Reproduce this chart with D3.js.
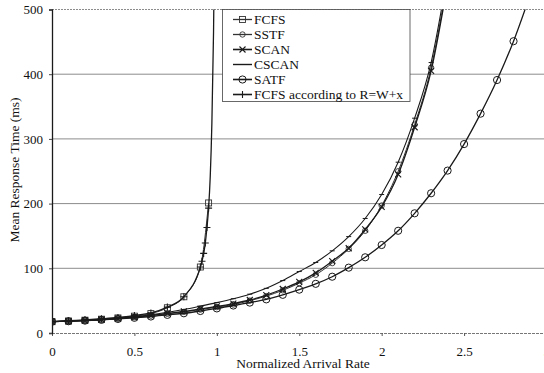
<!DOCTYPE html>
<html>
<head>
<meta charset="utf-8">
<script src="https://cdn.jsdelivr.net/npm/d3@7"></script>
<style>
  html, body { margin: 0; padding: 0; background: #fff; }
  svg { display: block; }
  text { font-family: "Liberation Serif", "Times New Roman", serif; fill: #111; }
</style>
</head>
<body>
<svg id="chart" width="544" height="373"></svg>
<script>
// Normalized arrival rate samples (x) and mean response time in ms (y) per scheduling policy
const rateSteps = [0, 0.1, 0.2, 0.3, 0.4, 0.5, 0.6, 0.7, 0.8, 0.9, 1.0, 1.1, 1.2, 1.3, 1.4, 1.5,
                   1.6, 1.7, 1.8, 1.9, 2.0, 2.1, 2.2, 2.3, 2.4, 2.5, 2.6, 2.7, 2.8, 2.9];

const fcfsRates = [0, 0.1, 0.2, 0.3, 0.4, 0.5, 0.6, 0.7, 0.8, 0.9, 0.95];
const fcfsTimes = [17.5, 18.5, 19.8, 21.3, 23.3, 26, 30, 39, 56, 102, 201];

const sstfTimes = [17.5, 18.3, 19.2, 20.6, 22.2, 24.3, 26.8, 29.6, 32.6, 36.2, 40, 44, 50, 57, 66, 77,
                   90, 108, 130, 158, 197, 250, 322, 410, 545];

const scanTimes = [17.5, 18.3, 19.3, 20.7, 22.3, 24.6, 27.2, 30.2, 33.4, 37.2, 41, 45.5, 51, 58.5, 68, 79,
                   93, 111, 131, 160, 195, 245, 318, 405, 540];

const cscanTimes = [17.5, 18.4, 19.5, 21, 22.8, 25.2, 28.2, 32, 36.3, 41.5, 47, 53, 60, 69, 81, 95,
                    109, 127, 149, 177, 214, 264, 332, 418, 555];

const satfTimes = [17.5, 18.2, 19.1, 20.3, 21.7, 23.5, 25.5, 28, 30.5, 34, 38, 42.5, 47, 52, 59, 67,
                   76, 87, 101, 117, 136, 158, 185, 216, 251, 292, 339, 391, 451, 522];

const modelRates = [0, 0.1, 0.2, 0.3, 0.4, 0.5, 0.6, 0.7, 0.8, 0.9, 0.91, 0.92, 0.93, 0.94, 0.95,
                    0.96, 0.97, 0.98, 0.99];
const modelTimes = [17.5, 19, 20.3, 22, 24, 27, 31, 40, 56, 102, 111, 123, 139, 163, 193,
                    242, 325, 465, 700];
// the analytic curve is marked only up to this rate; beyond it the line is drawn alone
const modelMarkedUpTo = 0.95;

const yTicks = [0, 100, 200, 300, 400, 500];
const xTicks = [0, 0.5, 1, 1.5, 2, 2.5, 3];
const xTickLabels = ["0", "0.5", "1", "1.5", "2", "2.5", "3"];
const legendLabels = ["FCFS", "SSTF", "SCAN", "CSCAN", "SATF", "FCFS according to R=W+x"];

const svg = d3.select("#chart");
const plotLeft = 52, plotRight = 546.5, plotTop = 9.5, plotBottom = 333;

const x = d3.scaleLinear().domain([0, 3]).range([plotLeft, plotRight]);
const y = d3.scaleLinear().domain([0, 500]).range([plotBottom, plotTop]);

const ink = "#1a1a1a";

// horizontal grid lines
svg.append("g")
  .selectAll("line")
  .data(yTicks.filter(v => v > 0))
  .join("line")
  .attr("x1", plotLeft).attr("x2", 544)
  .attr("y1", d => y(d)).attr("y2", d => y(d))
  .attr("stroke", "#8c8c8c")
  .attr("stroke-width", 1)
  .attr("stroke-dasharray", d => d === 500 ? "2,1" : null);

// x axis (baseline with downward ticks)
const xAxis = d3.axisBottom(x).tickValues(xTicks).tickSize(3).tickFormat((d, i) => xTickLabels[i]);
const gx = svg.append("g").attr("transform", `translate(0,${plotBottom})`).call(xAxis);
gx.select(".domain").attr("stroke", "#777").attr("stroke-dasharray", "3,1").attr("d", `M${plotLeft},0.5H544`);
gx.selectAll(".tick line").attr("stroke", "#555");
gx.selectAll(".tick text").attr("y", 14).attr("font-size", "13px")
  .attr("font-family", "Liberation Serif").attr("fill", "#111");

// y axis
const yAxis = d3.axisLeft(y).tickValues(yTicks).tickSize(3).tickPadding(6);
const gy = svg.append("g").attr("transform", `translate(${plotLeft},0)`).call(yAxis);
gy.select(".domain").attr("stroke", ink).attr("stroke-width", 1.3);
gy.selectAll(".tick line").attr("stroke", "#444");
gy.selectAll(".tick text").attr("font-size", "13px")
  .attr("font-family", "Liberation Serif").attr("fill", "#111");

// axis titles
svg.append("text")
  .attr("x", 303).attr("y", 368)
  .attr("text-anchor", "middle").attr("font-size", "13.5px")
  .text("Normalized Arrival Rate");
svg.append("text")
  .attr("transform", "translate(19,170) rotate(-90)")
  .attr("text-anchor", "middle").attr("font-size", "13.5px")
  .text("Mean Response Time (ms)");

// clip region for the plotted curves
svg.append("defs").append("clipPath").attr("id", "plotClip")
  .append("rect").attr("x", plotLeft).attr("y", plotTop)
  .attr("width", 544 - plotLeft).attr("height", plotBottom - plotTop + 4);

const plot = svg.append("g").attr("clip-path", "url(#plotClip)");

const line = d3.line().x(d => x(d[0])).y(d => y(d[1])).curve(d3.curveMonotoneX);

// marker painters
const markers = {
  square: (g, s) => g.append("rect").attr("x", -3).attr("y", -3).attr("width", 6).attr("height", 6)
    .attr("fill", "none").attr("stroke", s.color).attr("stroke-width", 0.9),
  smallCircle: (g, s) => g.append("circle").attr("r", 2.7)
    .attr("fill", "none").attr("stroke", s.color).attr("stroke-width", 0.9),
  cross: (g, s) => g.append("path").attr("d", "M-3,-3L3,3M-3,3L3,-3")
    .attr("stroke", s.color).attr("stroke-width", 1.1),
  dash: (g, s) => g.append("path").attr("d", "M-2.5,0H2.5")
    .attr("stroke", s.color).attr("stroke-width", 1),
  circle: (g, s) => g.append("circle").attr("r", 3.6)
    .attr("fill", "none").attr("stroke", s.color).attr("stroke-width", 1),
  plus: (g, s) => g.append("path").attr("d", "M-3.5,0H3.5M0,-3.5V3.5")
    .attr("stroke", s.color).attr("stroke-width", 1.1)
};

const zip = (xs, ys) => ys.map((v, i) => [xs[i], v]);

const series = [
  { name: legendLabels[0], pts: zip(fcfsRates, fcfsTimes), marker: "square", width: 1, color: "#333" },
  { name: legendLabels[1], pts: zip(rateSteps, sstfTimes), marker: "smallCircle", width: 1, color: "#333" },
  { name: legendLabels[2], pts: zip(rateSteps, scanTimes), marker: "cross", width: 1.3, color: ink },
  { name: legendLabels[3], pts: zip(rateSteps, cscanTimes), marker: "dash", width: 1.1, color: ink },
  { name: legendLabels[4], pts: zip(rateSteps, satfTimes), marker: "circle", width: 1.3, color: ink },
  { name: legendLabels[5], pts: zip(modelRates, modelTimes), marker: "plus", width: 1.3, color: ink,
    markFilter: d => d[0] <= modelMarkedUpTo }
];

series.forEach(s => {
  plot.append("path")
    .datum(s.pts)
    .attr("d", line)
    .attr("fill", "none")
    .attr("stroke", s.color)
    .attr("stroke-width", s.width);
  const shown = s.pts.filter(d => d[1] <= 500 && (!s.markFilter || s.markFilter(d)));
  plot.append("g").selectAll("g")
    .data(shown)
    .join("g")
    .attr("transform", d => `translate(${x(d[0])},${y(d[1])})`)
    .each(function () { markers[s.marker](d3.select(this), s); });
});

// legend
const legend = svg.append("g");
legend.append("rect")
  .attr("x", 222.5).attr("y", plotTop).attr("width", 187.5).attr("height", 92)
  .attr("fill", "#fff").attr("stroke", "#444").attr("stroke-width", 0.8);
const rowY = d3.scalePoint().domain(legendLabels).range([19.5, 94.5]);
series.forEach(s => {
  const cy = rowY(s.name);
  const row = legend.append("g");
  row.append("line").attr("x1", 233).attr("x2", 252).attr("y1", cy).attr("y2", cy)
    .attr("stroke", s.color).attr("stroke-width", s.width + 0.3);
  markers[s.marker](row.append("g").attr("transform", `translate(242.5,${cy})`), s);
  row.append("text").attr("x", 254).attr("y", cy + 4.5).attr("font-size", "13.5px").text(s.name);
});
</script>
</body>
</html>
